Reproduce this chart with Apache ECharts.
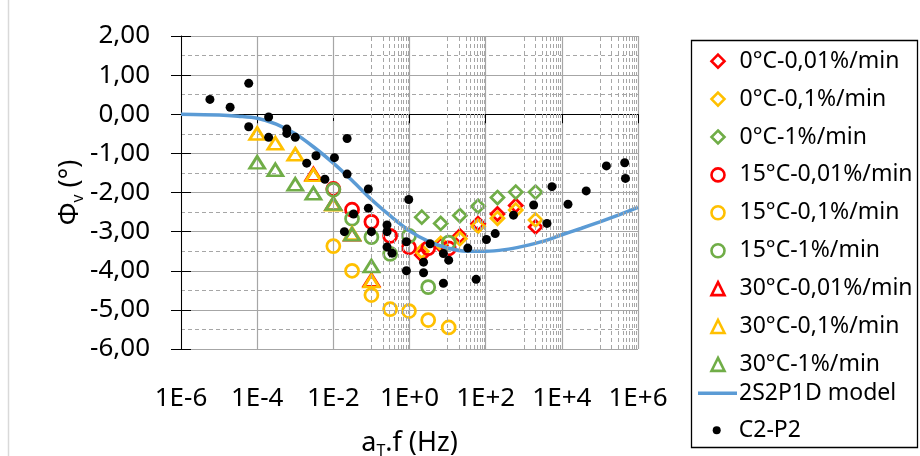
<!DOCTYPE html>
<html>
<head>
<meta charset="utf-8">
<script src="https://cdn.jsdelivr.net/npm/echarts@6/dist/echarts.min.js"></script>
<style>
html,body{margin:0;padding:0;background:#fff;}
#chart{width:920px;height:456px;}
</style>
</head>
<body>
<div id="chart"></div>
<script>
// ---- data ----
const diamondFreq = [2.1, 6.6, 21, 63, 204, 617, 2040];
const phi0_001 = [-3.6, -3.35, -3.11, -2.80, -2.55, -2.33, -2.88];
const phi0_01  = [-3.5, -3.3, -3.18, -2.86, -2.66, -2.45, -2.70];
const phi0_1   = [-2.63, -2.79, -2.59, -2.35, -2.13, -1.99, -1.99];

const circleFreq = [0.01, 0.031, 0.1, 0.31, 0.97, 3.1, 10.7];
const phi15_001 = [-1.91, -2.44, -2.75, -3.11, -3.40, -3.42, -3.43];
const phi15_01  = [-3.37, -4.0, -4.62, -4.98, -5.03, -5.26, -5.45];
const phi15_1   = [-1.93, -2.67, -3.14, -3.57, -3.11, -4.42, -3.28];

const triFreq = [1e-4, 3e-4, 1e-3, 3e-3, 1e-2, 3.1e-2, 0.1];
const phi30_001 = [null, null, null, -1.53, -2.29, -3.07, -4.24];
const phi30_01  = [-0.49, -0.74, -1.02, -1.55, -2.30, -3.05, -4.26];
const phi30_1   = [-1.23, -1.42, -1.79, -2.02, -2.28, -3.07, -3.88];

const modelFreq = [1e-6, 1e-5, 3.16e-5, 1e-4, 3.16e-4, 1e-3, 3.16e-3, 1e-2, 3.16e-2, 0.1, 0.316, 1, 3.16, 10, 31.6, 100, 316, 1000, 3160, 1e4, 3.16e4, 1e5, 3.16e5, 1e6];
const modelPhi  = [0, -0.02, -0.05, -0.1, -0.25, -0.5, -0.85, -1.25, -1.7, -2.18, -2.6, -2.98, -3.25, -3.42, -3.5, -3.5, -3.46, -3.37, -3.25, -3.08, -2.92, -2.75, -2.57, -2.38];

const c2Freq = [5.75e-6, 1.95e-5, 6.0e-5, 6.0e-5, 2.0e-4, 2.0e-4, 6.0e-4, 6.0e-4, 1.0e-3, 2.0e-3, 3.5e-3, 1.07e-2, 2.3e-2, 2.3e-2, 6.0e-3, 8.3e-2, 8.3e-2, 3.4e-2, 1.95e-2, 0.1, 0.257, 0.257, 0.257, 0.347, 0.955, 0.83, 0.83, 2.34, 2.34, 3.47, 7.76, 10.7, 7.76, 33.9, 56.2, 105, 178, 537, 1820, 4070, 5500, 14500, 43600, 148000, 447000, 468000];
const c2Phi  = [0.38, 0.18, 0.79, -0.32, -0.07, -0.59, -0.38, -0.49, -0.59, -1.25, -1.06, -1.11, -0.62, -1.53, -1.66, -1.91, -2.40, -2.55, -3.0, -3.0, -2.83, -3.0, -3.39, -3.55, -2.18, -3.26, -4.0, -3.78, -4.05, -3.31, -3.56, -3.73, -4.32, -3.42, -4.22, -3.2, -3.05, -2.58, -2.32, -2.79, -1.85, -2.3, -1.96, -1.32, -1.24, -1.64];

const seriesNames = ['0°C-0,01%/min','0°C-0,1%/min','0°C-1%/min','15°C-0,01%/min','15°C-0,1%/min','15°C-1%/min','30°C-0,01%/min','30°C-0,1%/min','30°C-1%/min','2S2P1D model','C2-P2'];
const xMajorTicks = [1e-6, 1e-4, 1e-2, 1, 1e2, 1e4, 1e6];

// ---- helpers ----
function pairs(xs, ys){ const out=[]; for(let i=0;i<xs.length;i++){ if(ys[i]!==null) out.push([xs[i], ys[i]]); } return out; }
const RED='#FF0000', YEL='#FFC000', GRN='#70AD47', BLUE='#5B9BD5';
const FONT='Noto Sans';

// Excel base-100 log axis minor gridlines: major*10*m, m=1..9
const minorX=[];
for(let k=0;k<xMajorTicks.length-1;k++){ for(let m=1;m<=9;m++){ minorX.push(xMajorTicks[k]*10*m); } }

function hollow(name, sym, size, color, xs, ys){
  return { name, type:'scatter', symbol:sym, symbolSize:size, data:pairs(xs,ys), z:3,
    itemStyle:{ color:'rgba(255,255,255,0)', borderColor:color, borderWidth:2.75, opacity:1 } };
}

const LEG_STEP = 36.9, LEG_FIRST = 60.7;
const legendText = {fontFamily:FONT, fontSize:23, color:'#000', lineHeight:22};

const chart = echarts.init(document.getElementById('chart'), null, {renderer:'canvas'});
chart.setOption({
  animation:false,
  backgroundColor:'#fff',
  textStyle:{fontFamily:FONT},
  grid:{left:181, right:282, top:36, bottom:107, containLabel:false, outerBoundsMode:'none'},
  graphic:[
    {type:'line', shape:{x1:8.5,y1:0,x2:8.5,y2:456}, style:{stroke:'#d9d9d9', lineWidth:1.5}},
    {type:'rect', shape:{x:691.5, y:40.5, width:226, height:407}, style:{fill:null, stroke:'#000', lineWidth:1.3}, z:-1}
  ],
  legend:[{
    orient:'vertical', left:710.2, top:LEG_FIRST-11, padding:0, itemGap:LEG_STEP-22,
    itemWidth:13, itemHeight:13, itemStyle:{borderWidth:2.6},
    textStyle:Object.assign({padding:[0,0,0,10]}, legendText),
    data:seriesNames.slice(0,9)
  },{
    orient:'vertical', left:698, top:LEG_FIRST+9*LEG_STEP-11, padding:0,
    itemWidth:39, itemHeight:3.5,
    textStyle:Object.assign({padding:[0,0,0,-3]}, legendText),
    data:[{name:seriesNames[9], icon:'rect', itemStyle:{color:BLUE}}]
  },{
    orient:'vertical', left:712.7, top:LEG_FIRST+10*LEG_STEP-11, padding:0,
    itemWidth:8, itemHeight:8,
    textStyle:Object.assign({padding:[0,0,0,13]}, legendText),
    data:[{name:seriesNames[10], icon:'circle', itemStyle:{color:'#000', borderWidth:0}}]
  }],
  xAxis:{
    type:'log', logBase:100, min:1e-6, max:1e6, splitNumber:6,
    name:'{a|a}{s|T}{a|.f (Hz)}', nameLocation:'middle', nameGap:78,
    nameTextStyle:{rich:{a:{fontFamily:FONT, fontSize:27, color:'#000', lineHeight:32}, s:{fontFamily:FONT, fontSize:16, color:'#000', lineHeight:16, verticalAlign:'bottom'}}},
    axisLine:{show:true, lineStyle:{color:'#000', width:1}},
    axisTick:{show:true, inside:false, length:9, lineStyle:{color:'#000'}},
    axisLabel:{margin:37, fontFamily:FONT, fontSize:26, color:'#000',
      formatter:function(v){ const e=Math.round(Math.log10(v)); return '1E'+(e>=0?'+':'-')+Math.abs(e); }},
    splitLine:{show:true, lineStyle:{color:'#a6a6a6', width:1.2}},
    minorTick:{show:false}, minorSplitLine:{show:false}
  },
  yAxis:[{
    type:'value', min:-6, max:2, interval:1,
    name:'{a|Φ}{s|v}{a| (°)}', nameLocation:'middle', nameRotate:90, nameGap:73,
    nameTextStyle:{rich:{a:{fontFamily:FONT, fontSize:27, color:'#000', lineHeight:32}, s:{fontFamily:FONT, fontSize:16, color:'#000', lineHeight:16, verticalAlign:'bottom'}}},
    axisLine:{show:true, lineStyle:{color:'#000', width:1}},
    axisTick:{show:true, inside:false, length:10, lineStyle:{color:'#000'}},
    axisLabel:{margin:31, fontFamily:FONT, fontSize:26, color:'#000',
      formatter:function(v){ return v.toFixed(2).replace('.', ','); }},
    splitLine:{show:true, lineStyle:{color:'#a6a6a6', width:1.2}},
    minorTick:{show:false, splitNumber:2},
    minorSplitLine:{show:true, lineStyle:{color:'#a6a6a6', width:1, type:[4,3]}}
  },{
    type:'value', min:-6, max:2, interval:1, position:'left',
    axisLine:{show:false}, axisLabel:{show:false}, splitLine:{show:false},
    axisTick:{show:true, inside:true, length:10, lineStyle:{color:'#000'}}
  }],
  series:[
    { name:'_grid', type:'line', data:[], silent:true, z:1,
      markLine:{ silent:true, symbol:['none','none'], label:{show:false}, animation:false,
        lineStyle:{color:'#a6a6a6', width:1, type:[4,3]},
        data:minorX.map(v=>({xAxis:v})) } },
    hollow(seriesNames[0],'diamond',13,RED,diamondFreq,phi0_001),
    hollow(seriesNames[1],'diamond',13,YEL,diamondFreq,phi0_01),
    hollow(seriesNames[2],'diamond',13,GRN,diamondFreq,phi0_1),
    hollow(seriesNames[3],'circle',13,RED,circleFreq,phi15_001),
    hollow(seriesNames[4],'circle',13,YEL,circleFreq,phi15_01),
    hollow(seriesNames[5],'circle',13,GRN,circleFreq,phi15_1),
    hollow(seriesNames[6],'triangle',[15,12],RED,triFreq,phi30_001),
    hollow(seriesNames[7],'triangle',[15,12],YEL,triFreq,phi30_01),
    hollow(seriesNames[8],'triangle',[15,12],GRN,triFreq,phi30_1),
    { name:seriesNames[9], type:'line', smooth:0.3, symbol:'none', showSymbol:false, z:4,
      data:pairs(modelFreq, modelPhi), lineStyle:{color:BLUE, width:3.5}, itemStyle:{color:BLUE} },
    { name:seriesNames[10], type:'scatter', symbol:'circle', symbolSize:9, z:5,
      data:pairs(c2Freq, c2Phi), itemStyle:{color:'#000', opacity:1} }
  ]
});
</script>
</body>
</html>
